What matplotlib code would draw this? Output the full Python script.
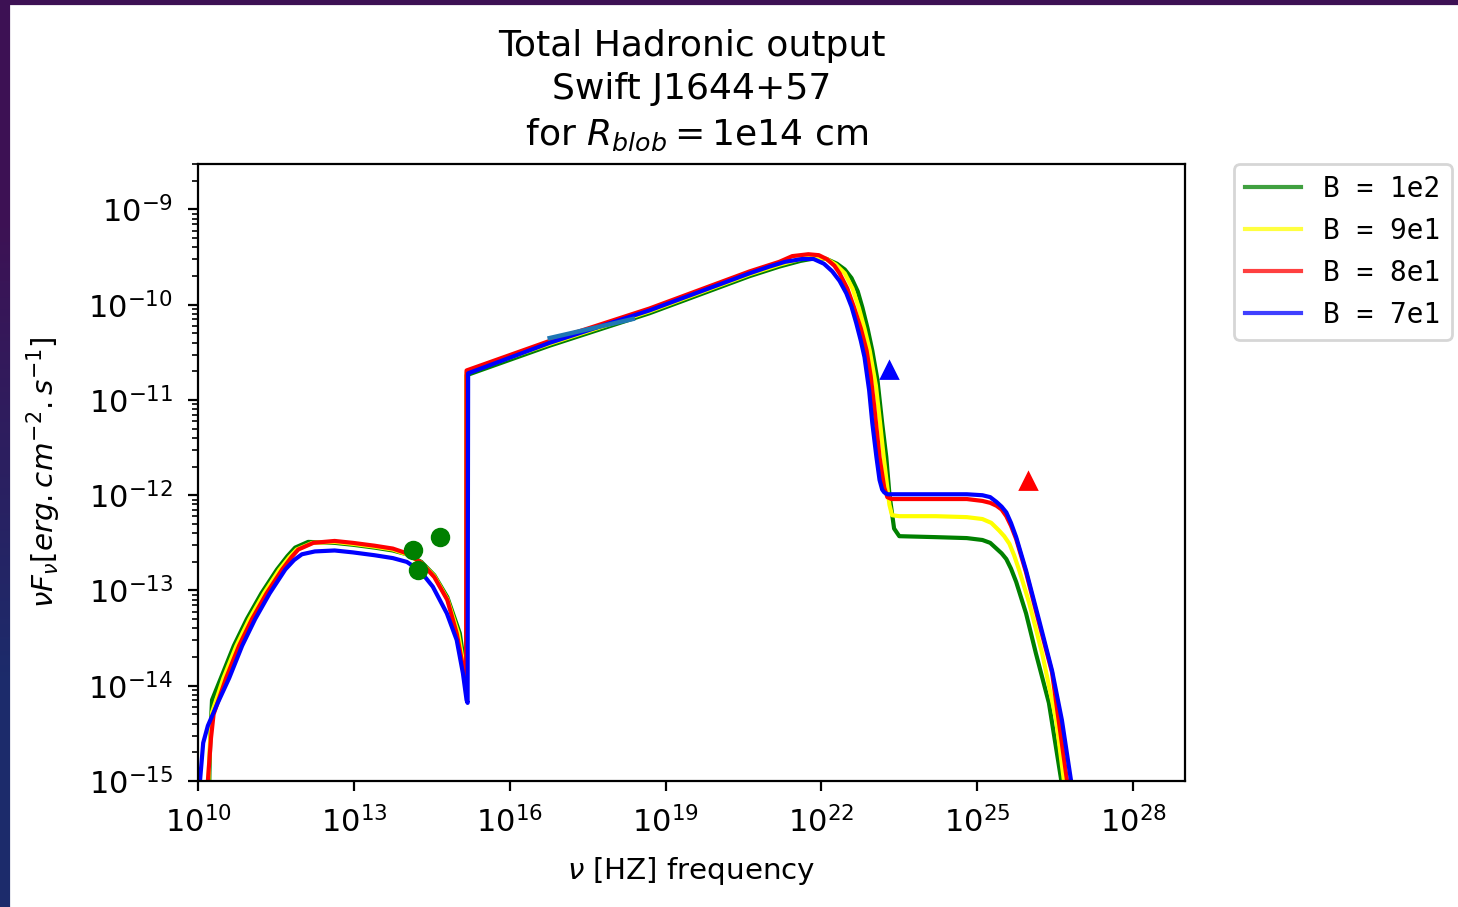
import matplotlib

matplotlib.use("Agg")
import matplotlib.pyplot as plt
import matplotlib.ticker as mticker
import numpy as np
from matplotlib.patches import Rectangle

# values, as log10(nu [Hz]) and log10(nu F_nu)
lognu_g = [10.21, 10.22, 10.24, 10.27, 10.44, 10.69, 10.94, 11.22, 11.52, 11.72, 11.87, 12.12, 12.63,
           12.98, 13.40, 13.75, 14.02, 14.30, 14.55, 14.80, 15.04, 15.12, 15.16, 15.17,
           16.77, 18.69, 20.62, 21.19, 21.60, 21.90, 22.10, 22.30, 22.45, 22.58, 22.70, 22.79,
           22.89, 22.98, 23.08, 23.17, 23.25, 23.31, 23.35, 23.40, 23.50, 24.20, 24.80, 25.10,
           25.25, 25.37, 25.47, 25.56, 25.65, 25.75, 25.94, 26.13, 26.38, 26.62, 26.67]
logF_g = [-15.3, -14.90, -14.50, -14.15, -13.92, -13.58, -13.30, -13.03, -12.78, -12.64, -12.55, -12.49, -12.50,
          -12.52, -12.55, -12.58, -12.62, -12.70, -12.84, -13.07, -13.45, -13.75, -13.92, -10.74,
          -10.43, -10.09, -9.70, -9.60, -9.54, -9.51, -9.52, -9.57, -9.63, -9.72, -9.86, -10.03,
          -10.25, -10.48, -10.79, -11.24, -11.60, -11.99, -12.15, -12.35, -12.43, -12.44, -12.45, -12.47,
          -12.50, -12.56, -12.61, -12.67, -12.77, -12.91, -13.24, -13.66, -14.18, -15.00, -15.3]

lognu_y = [10.19, 10.20, 10.23, 10.27, 10.49, 10.74, 10.99, 11.27, 11.57, 11.76, 11.90, 12.20, 12.63,
           12.98, 13.40, 13.75, 14.02, 14.30, 14.55, 14.80, 15.01, 15.11, 15.16, 15.17,
           16.77, 18.69, 20.62, 21.19, 21.60, 21.90, 22.10, 22.28, 22.45, 22.60, 22.72, 22.83,
           22.93, 23.05, 23.13, 23.20, 23.27, 23.31, 23.36, 23.50, 24.20, 24.80, 25.10, 25.27,
           25.42, 25.52, 25.62, 25.71, 25.81, 26.00, 26.25, 26.52, 26.67, 26.72]
logF_y = [-15.3, -15.00, -14.60, -14.28, -13.92, -13.58, -13.30, -13.03, -12.78, -12.65, -12.57, -12.50, -12.49,
          -12.51, -12.54, -12.57, -12.62, -12.71, -12.85, -13.09, -13.45, -13.78, -13.95, -10.71,
          -10.41, -10.07, -9.68, -9.58, -9.52, -9.50, -9.52, -9.58, -9.67, -9.83, -10.03, -10.25,
          -10.48, -10.85, -11.24, -11.60, -11.92, -12.10, -12.21, -12.22, -12.22, -12.23, -12.25, -12.29,
          -12.37, -12.43, -12.51, -12.63, -12.79, -13.13, -13.66, -14.36, -15.00, -15.3]

lognu_r = [10.17, 10.19, 10.25, 10.30, 10.54, 10.79, 11.04, 11.32, 11.62, 11.80, 11.93, 12.22, 12.63,
           12.98, 13.40, 13.75, 14.02, 14.30, 14.55, 14.80, 14.98, 15.10, 15.16, 15.17,
           16.77, 18.69, 20.62, 21.19, 21.44, 21.75, 21.95, 22.10, 22.25, 22.35, 22.50, 22.63,
           22.76, 22.87, 22.95, 23.02, 23.12, 23.21, 23.27, 23.35, 24.20, 24.80, 25.10, 25.25,
           25.37, 25.47, 25.56, 25.65, 25.75, 25.94, 26.19, 26.44, 26.73, 26.78]
logF_r = [-15.3, -15.00, -14.55, -14.30, -13.92, -13.58, -13.30, -13.03, -12.78, -12.65, -12.57, -12.50, -12.48,
          -12.50, -12.53, -12.56, -12.61, -12.71, -12.86, -13.10, -13.45, -13.80, -13.97, -10.69,
          -10.38, -10.04, -9.65, -9.55, -9.49, -9.47, -9.48, -9.52, -9.59, -9.67, -9.83, -10.03,
          -10.25, -10.48, -10.75, -11.08, -11.60, -11.92, -12.02, -12.04, -12.04, -12.04, -12.06, -12.08,
          -12.11, -12.15, -12.22, -12.32, -12.46, -12.81, -13.34, -13.86, -15.00, -15.3]

lognu_b = [10.02, 10.04, 10.10, 10.19, 10.38, 10.60, 10.85, 11.10, 11.38, 11.68, 11.85, 12.00, 12.25, 12.63,
           12.98, 13.40, 13.75, 14.02, 14.27, 14.52, 14.79, 14.98, 15.10, 15.17, 15.19, 15.20,
           16.77, 18.69, 20.62, 21.00, 21.30, 21.63, 21.85, 22.05, 22.21, 22.35, 22.48, 22.58,
           22.67, 22.76, 22.83, 22.92, 22.98, 23.06, 23.12, 23.17, 23.21, 23.27, 24.20, 24.80,
           25.10, 25.25, 25.37, 25.47, 25.56, 25.65, 25.75, 25.94, 26.19, 26.44, 26.63, 26.81, 26.85]
logF_b = [-15.3, -14.99, -14.60, -14.42, -14.18, -13.92, -13.58, -13.30, -13.03, -12.78, -12.68, -12.62, -12.59, -12.58,
          -12.60, -12.63, -12.66, -12.70, -12.79, -12.96, -13.24, -13.52, -13.87, -14.15, -14.18, -10.72,
          -10.40, -10.06, -9.67, -9.60, -9.55, -9.52, -9.52, -9.57, -9.65, -9.75, -9.88, -10.02,
          -10.19, -10.38, -10.55, -10.90, -11.24, -11.60, -11.84, -11.94, -11.97, -11.99, -11.99, -11.99,
          -12.00, -12.02, -12.07, -12.12, -12.18, -12.29, -12.44, -12.79, -13.31, -13.84, -14.36, -15.01, -15.3]

labels = ["B = 1e2", "B = 9e1", "B = 8e1", "B = 7e1"]
colors = ["green", "yellow", "red", "blue"]

# observations
radio_nu = [14.13, 14.23, 14.65]
radio_F = [-12.58, -12.79, -12.44]
xray_nu = [16.77, 18.37]
xray_F = [-10.35, -10.15]
fermi_nu = [23.31]
fermi_F = [-10.69]
veritas_nu = [25.98]
veritas_F = [-11.85]

W, H, DPI = 1458, 907, 200
fig = plt.figure(figsize=(W / DPI, H / DPI), dpi=DPI)

# screenshot backdrop: dark gradient frame around the white figure
bg = fig.add_axes([0, 0, 1, 1], zorder=-5)
grad = np.array([[[0.24, 0.07, 0.33]], [[0.11, 0.17, 0.42]]])
bg.imshow(grad, extent=[0, 1, 0, 1], aspect="auto", interpolation="bilinear")
bg.add_patch(Rectangle((11 / W, 0), 1, (H - 6) / H, color="white"))
bg.set_xlim(0, 1)
bg.set_ylim(0, 1)
bg.axis("off")

ax = fig.add_axes([198 / W, (H - 781) / H, 987 / W, 617 / H])

series = [(lognu_g, logF_g), (lognu_y, logF_y), (lognu_r, logF_r), (lognu_b, logF_b)]
for (lx, ly), c, lab in zip(series, colors, labels):
    ax.plot(10.0 ** np.array(lx), 10.0 ** np.array(ly), color=c, lw=1.5, label=lab)

ax.plot(10.0 ** np.array(radio_nu), 10.0 ** np.array(radio_F), "o", color="green")
ax.plot(10.0 ** np.array(xray_nu), 10.0 ** np.array(xray_F), color="#1f77b4", lw=1.6)
ax.plot(10.0 ** np.array(fermi_nu), 10.0 ** np.array(fermi_F), "^", color="blue")
ax.plot(10.0 ** np.array(veritas_nu), 10.0 ** np.array(veritas_F), "^", color="red")

ax.set_xscale("log")
ax.set_yscale("log")
ax.set_xlim(1e10, 1e29)
ax.set_ylim(1e-15, 3e-9)
ax.xaxis.set_major_locator(mticker.FixedLocator(10.0 ** np.arange(10, 29, 3)))
ax.xaxis.set_minor_locator(mticker.NullLocator())
ax.tick_params(axis="both", which="major", labelsize=11, pad=5.5)

ax.set_title("Total Hadronic output\nSwift J1644+57\n for $R_{blob} = $1e14 cm",
             fontsize=13, linespacing=1.35, pad=7)
ax.set_xlabel(r"$\nu$ [HZ] frequency", fontsize=10.6, labelpad=6)
ax.set_ylabel(r"$\nu F_{\nu} [erg.cm^{-2}.s^{-1}]$", fontsize=10.6, labelpad=9)

leg = ax.legend(loc="upper left", bbox_to_anchor=(1.05, 1), borderaxespad=0.,
                prop={"family": "DejaVu Sans Mono"})
for h in leg.legend_handles:
    h.set_alpha(0.75)

fig.savefig("out.png", dpi=DPI)
